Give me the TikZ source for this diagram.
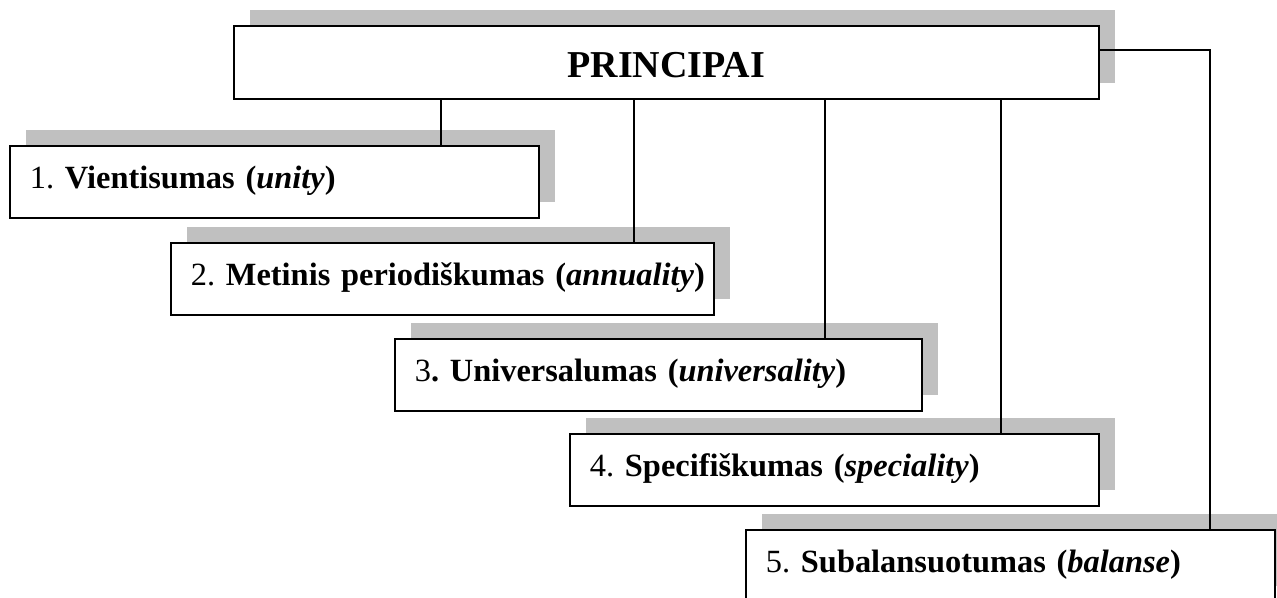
\documentclass[tikz,border=0pt]{standalone}
\usepackage{fontspec}
\setmainfont{Liberation Serif}
\usetikzlibrary{shadows}
\definecolor{shadowgray}{HTML}{C0C0C0}
\frenchspacing
\begin{document}
\begin{tikzpicture}[x=0.75pt,y=-0.75pt,
  box/.style={draw=black, line width=1.3pt, fill=white, rectangle, anchor=north west,
    inner ysep=0pt,
    drop shadow={shadow xshift=12pt, shadow yshift=12pt, fill=shadowgray, opacity=1}},
  itembox/.style={box, align=left, minimum height=54pt, inner xsep=15pt,
    font=\fontsize{24.3}{30}\selectfont, text height=16.5pt, text depth=6.5pt},
  titlebox/.style={box, align=center, minimum height=54.75pt, inner xsep=0pt,
    font=\fontsize{28.5}{34}\selectfont\bfseries, text height=30pt, text depth=7.5pt},
  conn/.style={draw=black, line width=1pt}]
\clip (0,0) rectangle (1277,597);

\node[titlebox, text width=648.75pt] (main) at (233,25) {PRINCIPAI};

\node[itembox, text width=366.75pt] (b1) at (9,145)
  {\mbox{1. \textbf{Vientisumas (\textit{unity})}}};
\node[itembox, text width=377.25pt] (b2) at (170,242)
  {\mbox{2. \textbf{Metinis periodiškumas (\textit{annuality})}}};
\node[itembox, text width=365.25pt] (b3) at (394,338)
  {\mbox{3\textbf{. Universalumas (\textit{universality})}}};
\node[itembox, text width=366.75pt] (b4) at (569,433)
  {\mbox{4. \textbf{Specifiškumas (\textit{speciality})}}};
\node[itembox, text width=366.75pt] (b5) at (745,529)
  {\mbox{5. \textbf{Subalansuotumas (\textit{balanse})}}};

\coordinate (k1) at (441,0);
\coordinate (k2) at (634,0);
\coordinate (k3) at (825,0);
\coordinate (k4) at (1001,0);
\coordinate (k5) at (1210,50);

\draw[conn] (k1 |- main.south) -- (k1 |- b1.north);
\draw[conn] (k2 |- main.south) -- (k2 |- b2.north);
\draw[conn] (k3 |- main.south) -- (k3 |- b3.north);
\draw[conn] (k4 |- main.south) -- (k4 |- b4.north);
\draw[conn] (main.east |- k5) -- (k5) -- (k5 |- b5.north);
\end{tikzpicture}
\end{document}
